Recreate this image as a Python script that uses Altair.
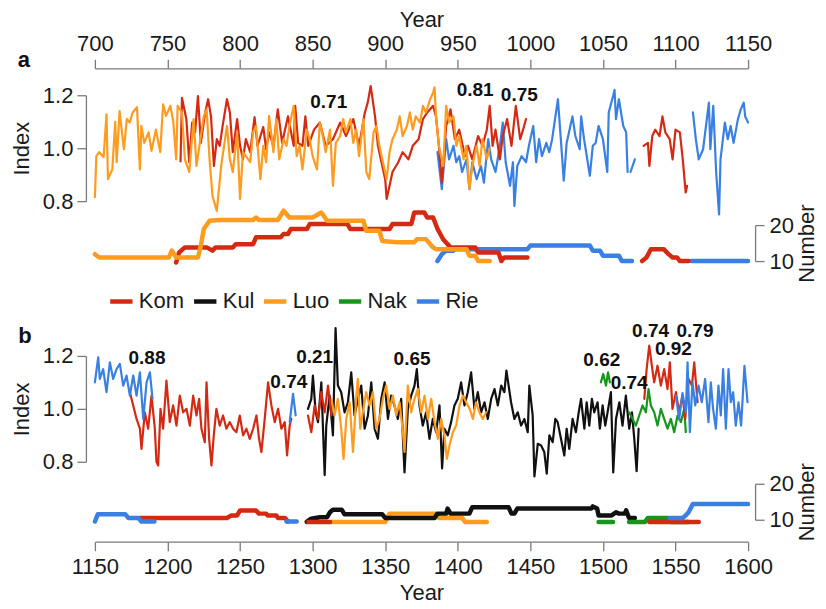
import altair as alt
import pandas as pd

SITES = ['Kom', 'Kul', 'Luo', 'Nak', 'Rie']
COLORS = ['#d42a14', '#111111', '#ff9b1f', '#16961a', '#3a80e2']
FONT = 'Liberation Sans'

# ---- panel a, ring-width index: (year, index) ----
a_luo = [(700, 0.815), (701, 0.97), (703, 0.985), (706, 0.966), (708, 1.128), (709, 0.883), (712, 0.92),
         (714, 1.10), (715, 0.947), (717, 1.14), (720, 0.996), (722, 1.11), (724, 1.097), (726, 1.135),
         (729, 1.155), (731, 0.92), (732, 1.084), (734, 1.02), (737, 1.06), (739, 0.99), (742, 1.07),
         (745, 0.985), (747, 1.166), (749, 1.122), (752, 1.16), (754, 1.10), (756, 0.958), (757, 1.16),
         (760, 1.135), (762, 0.958), (765, 0.91), (768, 1.11), (770, 0.933), (775, 1.12), (777, 1.147),
         (779, 0.958), (781, 0.82), (784, 0.763), (787, 0.933), (791, 1.084), (793, 0.958), (795, 0.91),
         (798, 1.06), (800, 0.808), (802, 0.985), (804, 0.97), (807, 0.947), (809, 1.06), (811, 1.084),
         (814, 0.883), (816, 1.009), (818, 0.947), (820, 1.122), (823, 0.985), (825, 1.11), (827, 0.958),
         (830, 1.034), (832, 1.009), (834, 1.084), (837, 1.16), (839, 0.97), (841, 1.009), (843, 0.92),
         (846, 1.07), (848, 1.034), (850, 0.97), (853, 0.92), (855, 1.097), (857, 1.046), (859, 0.985),
         (862, 1.07), (864, 0.858), (866, 1.02), (869, 1.046), (871, 1.11), (873, 1.06), (876, 1.11),
         (878, 1.02), (880, 1.07), (882, 0.97), (885, 1.11), (887, 0.91), (889, 0.883), (892, 1.06),
         (894, 1.084), (896, 1.009), (898, 0.958), (901, 0.883), (903, 0.985), (905, 1.034), (908, 1.07),
         (910, 1.12), (912, 1.046), (915, 1.084), (917, 1.135), (919, 1.07), (921, 1.12), (924, 1.097),
         (926, 1.16), (928, 1.135), (931, 1.185), (933, 1.21), (934, 1.23), (935, 1.12), (937, 1.009),
         (940, 0.933), (942, 1.16), (944, 1.097), (947, 1.12), (949, 1.009), (951, 1.046), (954, 0.958),
         (956, 1.009), (958, 0.845), (960, 0.933), (963, 1.009), (965, 0.933), (967, 1.034), (970, 0.958),
         (972, 1.0)]
a_kom_1 = [(759, 0.95), (760, 1.19), (763, 1.11), (765, 0.947), (767, 1.097), (769, 1.06), (771, 1.197),
           (773, 1.02), (776, 1.135), (778, 1.185), (780, 1.12), (782, 0.933), (784, 1.034), (786, 1.009),
           (788, 1.084), (791, 1.185), (793, 1.135), (795, 0.985), (798, 1.11), (800, 1.009), (802, 0.958),
           (804, 1.034), (807, 0.985), (810, 1.117), (812, 1.009), (816, 1.08), (818, 0.996), (820, 1.06),
           (823, 1.009), (826, 1.147), (829, 1.02), (833, 1.12), (837, 1.009), (838, 1.16), (840, 1.02),
           (843, 1.009), (845, 1.12), (847, 1.009), (851, 1.07), (855, 1.097), (859, 1.009), (864, 1.034),
           (869, 1.097), (873, 1.046), (878, 1.11), (882, 1.009), (886, 1.135), (888, 1.173), (890, 1.235),
           (893, 1.12), (895, 1.009), (897, 0.958), (900, 0.883), (901, 0.808), (903, 0.858), (905, 0.91),
           (909, 0.947), (912, 0.985), (916, 0.958), (919, 1.009), (923, 1.034), (926, 1.11), (929, 1.135),
           (933, 1.16), (935, 1.12), (937, 1.009), (939, 0.87), (940, 0.933), (942, 1.084), (945, 1.147),
           (948, 1.034), (951, 1.07), (955, 0.97), (957, 1.009), (960, 0.958), (964, 1.046), (967, 1.009),
           (970, 1.07), (972, 1.16), (974, 1.009), (976, 1.07), (979, 0.958), (981, 1.046), (984, 1.11),
           (987, 1.009), (990, 1.16), (993, 1.034), (995, 1.07), (997, 1.11)]
a_kom_2 = [(1078, 1.009), (1081, 1.02), (1082, 0.933), (1084, 1.046), (1086, 1.07), (1089, 1.046),
           (1091, 1.12), (1093, 1.06), (1096, 1.034), (1098, 0.958), (1100, 1.07), (1103, 1.06),
           (1105, 0.958), (1107, 0.833), (1108, 0.858)]
a_rie_1 = [(936, 0.985), (939, 0.845), (942, 1.034), (944, 0.958), (947, 1.009), (949, 0.947), (951, 0.97),
           (953, 0.91), (956, 0.958), (958, 0.845), (960, 0.947), (963, 0.883), (966, 0.933), (968, 0.87),
           (971, 1.034), (973, 0.958), (976, 0.91), (979, 1.009), (981, 1.097), (983, 0.947), (986, 0.858),
           (988, 0.947), (989, 0.782), (991, 0.933), (994, 0.97), (997, 0.947), (999, 1.009), (1002, 1.084),
           (1004, 0.947), (1006, 1.034), (1008, 0.97), (1011, 1.02), (1013, 0.985), (1015, 1.034),
           (1019, 1.185), (1021, 1.034), (1023, 0.877), (1025, 1.02), (1027, 1.07), (1029, 1.12),
           (1031, 1.046), (1034, 0.996), (1035, 1.12), (1037, 1.034), (1041, 0.896), (1043, 1.009),
           (1045, 1.02), (1047, 1.084), (1050, 1.034), (1053, 0.91), (1054, 1.135), (1057, 1.197),
           (1058, 1.22), (1059, 1.11), (1061, 1.185), (1064, 1.084), (1066, 1.06), (1067, 0.91)]
a_rie_2 = [(1069, 0.91), (1072, 0.958)]
a_rie_3 = [(1112, 1.135), (1114, 1.034), (1116, 0.958), (1119, 0.996), (1121, 1.084), (1123, 1.172),
           (1124, 0.996), (1126, 1.16), (1128, 0.91), (1130, 0.75), (1131, 0.958), (1134, 1.097),
           (1136, 1.034), (1138, 1.084), (1140, 1.02), (1143, 1.11), (1145, 1.147), (1147, 1.172),
           (1148, 1.12), (1150, 1.097)]

# ---- panel a, number of series: (year, number) ----
a_luo_n = [(700, 11.9), (703, 11), (751, 11), (753, 12.9), (756, 11), (771, 11), (773, 14.3), (775, 18.9),
           (779, 21.2), (786, 21.4), (809, 21.4), (811, 22.1), (813, 21.4), (826, 21.4), (830, 24),
           (834, 22.1), (850, 22.1), (856, 23.5), (860, 21.2), (885, 21.2), (887, 18.4), (896, 18.4),
           (898, 15.6), (908, 15.2), (920, 15.2), (922, 16.1), (928, 16.1), (933, 13.8), (935, 13.3),
           (956, 13.3), (958, 11.5), (962, 11.5), (964, 10), (972, 10)]
a_kom_n1 = [(756, 9.6), (758, 12.4), (762, 13.8), (777, 13.8), (781, 12.9), (783, 13.8), (795, 13.8),
            (797, 14.7), (809, 14.7), (811, 16.6), (828, 16.6), (830, 17.5), (833, 17.5), (835, 18.9),
            (846, 18.9), (848, 20.3), (874, 20.3), (876, 18.9), (903, 18.9), (905, 20.3), (918, 20.3),
            (920, 23.5), (927, 23.5), (929, 22.1), (933, 22.1), (936, 19), (940, 16), (945, 13.8),
            (962, 13.8), (964, 12.4), (978, 12.4), (980, 10), (982, 11), (998, 11)]
a_kom_n2 = [(1077, 10), (1080, 11), (1083, 13.3), (1092, 13.3), (1095, 12), (1098, 11), (1101, 11),
            (1103, 10), (1109, 10)]
a_rie_n1 = [(936, 10), (939, 11.9), (942, 12.9), (947, 12.9), (948, 13.3), (998, 13.3), (1000, 14.3),
            (1041, 14.3), (1043, 12.9), (1048, 12.9), (1050, 11.5), (1061, 11.5), (1063, 10), (1070, 10)]
a_rie_n2 = [(1111, 10), (1150, 10)]

# ---- panel b, ring-width index ----
b_rie_1 = [(1150, 1.10), (1152.3, 1.195), (1153.4, 1.113), (1155.7, 1.15), (1158, 1.063), (1160.3, 1.176),
           (1162.6, 1.113), (1164.9, 1.15), (1167.2, 1.17), (1169.5, 1.088), (1171.8, 1.126), (1174.1, 1.05),
           (1176.4, 1.126), (1178.7, 1.05), (1181, 1.138), (1183.3, 0.962), (1185.6, 1.10), (1187.9, 1.138),
           (1189.7, 1.038)]
b_rie_2 = [(1284.2, 0.95), (1286.5, 1.057), (1288.3, 0.975)]
b_rie_3 = [(1550.3, 1.05), (1552.5, 0.96), (1554.8, 1.06), (1557.1, 0.987), (1558.3, 1.176), (1559.9, 0.912),
           (1561.7, 1.10), (1563.6, 1.013), (1565.9, 1.088), (1568.1, 1.025), (1570.4, 1.113), (1572.7, 0.95),
           (1574.3, 1.10), (1575.9, 1.0), (1577.8, 0.925), (1579.6, 1.088), (1581.2, 0.975), (1582.8, 1.15),
           (1584.7, 0.925), (1586.5, 1.15), (1588.1, 1.025), (1589.7, 1.063), (1591.5, 0.937),
           (1593.4, 1.025), (1595.2, 0.937), (1597.5, 1.163), (1599.6, 1.025)]
b_kom_1 = [(1174.1, 1.063), (1176.4, 1.013), (1178.7, 0.962), (1181, 0.925), (1182.1, 0.849), (1184.4, 0.987),
           (1186.7, 0.925), (1189, 1.05), (1191.3, 0.925), (1192.4, 0.80), (1193.6, 0.786), (1195.2, 1.0),
           (1197, 0.925), (1199.3, 1.107), (1201.6, 0.95), (1203.9, 1.013), (1206.2, 0.937), (1208.5, 1.05),
           (1210.8, 0.987), (1213.1, 1.0), (1215.4, 0.937), (1217.7, 1.05), (1220, 0.975), (1221.8, 1.038),
           (1223.4, 0.925), (1225.7, 0.874), (1226.9, 1.10), (1228.7, 0.887), (1230.3, 0.786), (1231.9, 0.90),
           (1233.7, 1.0), (1236, 0.937), (1238.3, 0.975), (1240.6, 0.925), (1242.9, 0.95), (1245.2, 0.925),
           (1247.5, 0.912), (1249.8, 0.975), (1252.1, 0.90), (1254.4, 0.925), (1256.7, 0.887), (1259, 0.925),
           (1261.3, 0.975), (1263.1, 0.887), (1264.7, 0.837), (1267, 0.962), (1269.3, 1.10), (1271.6, 1.013),
           (1273.9, 0.95), (1276.2, 1.0), (1278.5, 0.925), (1280.8, 0.95), (1282.4, 0.824), (1284.2, 0.937),
           (1285.3, 0.962)]
b_kom_2 = [(1296.8, 0.975), (1299.1, 0.912), (1301.4, 1.013), (1303.7, 0.962), (1306, 1.063), (1308.3, 0.987),
           (1310.6, 1.088), (1312.9, 0.975)]
b_kom_3 = [(1528.5, 1.038), (1530.1, 1.15), (1531.9, 1.239), (1533.7, 1.163), (1535.3, 1.10), (1537.6, 1.163),
           (1539.9, 1.088), (1542.2, 1.15), (1544.5, 1.075), (1546.1, 1.176), (1547.9, 1.0), (1550.3, 1.063),
           (1552.5, 0.987), (1554.8, 1.05), (1556.7, 0.962), (1559, 1.113), (1561.3, 1.088), (1562.9, 1.176),
           (1565.2, 1.025)]
b_kul = [(1296.8, 1.0), (1299.1, 1.038), (1300.2, 1.126), (1302.1, 0.987), (1303.7, 0.95), (1306, 1.10),
         (1308.3, 0.75), (1309.4, 0.937), (1311.7, 1.05), (1314, 0.90), (1315.8, 1.305), (1317.4, 1.088),
         (1319.7, 1.063), (1322, 0.987), (1324.3, 1.025), (1326.6, 1.138), (1328.9, 0.975), (1331.2, 1.038),
         (1333.5, 1.088), (1335.8, 0.925), (1338.1, 0.975), (1340.4, 1.10), (1342.7, 0.925), (1345, 0.887),
         (1347.3, 1.038), (1349.6, 1.10), (1351.9, 0.962), (1354.1, 1.05), (1356.4, 1.013), (1358.7, 0.962),
         (1361, 1.038), (1363.3, 0.76), (1365.6, 1.0), (1367.9, 1.05), (1370.2, 1.088), (1371.8, 1.15),
         (1373.6, 1.013), (1375.9, 0.937), (1378.2, 0.987), (1380.5, 0.887), (1382.8, 0.962), (1385.1, 0.912),
         (1387.4, 1.013), (1389.2, 0.775), (1390.8, 0.925), (1393.1, 0.90), (1395.4, 0.95), (1397.7, 1.013),
         (1400, 1.038), (1402.3, 1.10), (1404.6, 1.013), (1406.9, 1.063), (1409.2, 1.138), (1411.5, 1.0),
         (1413.8, 1.063), (1416.1, 0.987), (1418.4, 1.025), (1420.7, 0.962), (1423, 1.038), (1425.3, 1.075),
         (1427.6, 1.013), (1429.9, 1.088), (1432.1, 1.063), (1433.5, 1.145), (1436.7, 1.025), (1439, 0.962),
         (1441.3, 0.987), (1443.6, 0.937), (1445.9, 0.962), (1448.2, 0.912), (1449.3, 1.088), (1451.6, 0.975),
         (1452.8, 0.745), (1455.1, 0.868), (1457.4, 0.862), (1459.6, 0.837), (1461.3, 0.755), (1463.1, 0.90),
         (1465.4, 0.874), (1467.2, 0.962), (1468.8, 0.95), (1471.1, 0.887), (1473.4, 0.824), (1475, 0.925),
         (1476.8, 0.849), (1479.1, 0.962), (1481.4, 0.912), (1483.3, 0.987), (1484.9, 1.038), (1487.2, 0.925),
         (1488.8, 1.025), (1490.6, 0.937), (1492.4, 1.038), (1494, 0.987), (1496.3, 1.025), (1497.9, 0.925),
         (1499.8, 1.013), (1501.6, 0.937), (1503.2, 0.987), (1505.5, 1.063), (1507.1, 0.76), (1509, 0.962),
         (1511.3, 1.025), (1513.5, 0.937), (1515.8, 1.05), (1518.1, 0.925), (1520, 0.987), (1521.6, 0.887),
         (1523.2, 0.765), (1524.6, 0.925)]
b_luo = [(1312.9, 1.038), (1315.1, 0.975), (1317.4, 1.038), (1319.7, 0.925), (1321.3, 0.811), (1323.2, 0.962),
         (1325.5, 1.025), (1327.8, 0.837), (1330.1, 1.05), (1331.2, 1.113), (1332.8, 0.925), (1334.6, 0.987),
         (1336.9, 1.063), (1339.2, 1.013), (1341.5, 1.063), (1343.8, 0.925), (1346.1, 0.962), (1348.4, 1.038),
         (1350.7, 1.088), (1353, 1.0), (1355.3, 1.05), (1357.6, 0.975), (1359.9, 1.025), (1362.2, 0.912),
         (1363.3, 0.837), (1365.6, 1.088), (1367.9, 0.987), (1370.2, 1.038), (1372.5, 1.075), (1374.8, 0.987),
         (1377.1, 1.05), (1379.4, 0.962), (1381.7, 1.038), (1384, 0.95), (1386.3, 0.887), (1388.6, 0.962),
         (1390.8, 0.90), (1392.5, 0.811), (1394.3, 0.862), (1396.6, 0.912), (1398.9, 0.937), (1401.2, 1.013),
         (1403.5, 1.05), (1405.8, 1.025), (1408.2, 1.0), (1410.4, 0.962), (1412.6, 1.025), (1414.9, 0.987),
         (1417.2, 0.962), (1419.5, 0.987)]
b_nak_1 = [(1498.6, 1.10), (1500.2, 1.132), (1502.1, 1.088), (1503.5, 1.138), (1504.8, 1.10)]
b_nak_2 = [(1518.1, 0.987), (1520.4, 0.962), (1522.7, 0.937), (1525, 0.975), (1527.3, 1.013), (1529.6, 0.987),
           (1531.4, 1.075), (1533, 1.013), (1535.3, 0.987), (1537.6, 0.937), (1539.9, 1.0), (1542.2, 0.962),
           (1544.5, 0.925), (1546.8, 0.962), (1549.1, 0.912), (1551.4, 0.975), (1553.7, 0.95), (1556, 1.0),
           (1557.1, 0.912)]

# ---- panel b, number of series ----
b_rie_n1 = [(1150, 9.5), (1152, 11.5), (1171, 11.5), (1173, 10.5), (1180, 10.5), (1182, 9.5), (1191, 9.5)]
b_rie_n2 = [(1282, 9.5), (1289, 9.5)]
b_rie_n3 = [(1546, 10.5), (1555, 10.5), (1557, 11.2), (1559, 12.1), (1562, 14.4), (1600, 14.4)]
b_kom_n1 = [(1181, 10.5), (1241, 10.5), (1244, 11.2), (1248, 11.2), (1250, 12.6), (1261, 12.6), (1263, 11.7),
            (1268, 11.7), (1269, 11.2), (1275, 11.2), (1276, 10.5), (1281, 10.5), (1283, 9.5)]
b_kom_n2 = [(1297, 9.4), (1312, 9.4)]
b_kom_n3 = [(1532, 9.4), (1566, 9.4)]
b_kul_n = [(1296, 9.4), (1299, 10.3), (1305, 10.7), (1310, 10.7), (1312, 12.1), (1314, 12.8), (1320, 12.8),
           (1322, 11.5), (1348, 11.5), (1350, 10.5), (1384, 10.5), (1386, 11.7), (1392, 11.7), (1393, 13.1),
           (1395, 11.7), (1408, 11.7), (1410, 13.5), (1435, 13.5), (1437, 11.7), (1439, 11.7), (1441, 13.1),
           (1492, 13.1), (1493, 13.7), (1496, 13.1), (1497, 11.2), (1506, 11.2), (1509, 12.1), (1511, 11.7),
           (1515, 11.7), (1516, 12.6), (1518, 10.5), (1522, 10.5)]
b_luo_n = [(1312, 9.4), (1350, 9.4), (1353, 11.7), (1385, 11.7), (1387, 10.5), (1403, 10.5), (1405, 9.4),
           (1420, 9.4)]
b_nak_n1 = [(1497, 9.4), (1507, 9.4)]
b_nak_n2 = [(1518, 9.4), (1529, 9.4), (1531, 10.5), (1545, 10.5), (1547, 9.4), (1559, 9.4)]

# correlations written on the panels: (year, index, label)
a_notes = [(861.1, 1.176, '0.71'), (962.0, 1.221, '0.81'), (992.4, 1.200, '0.75')]
b_notes = [(1185.9, 1.192, '0.88'), (1301.4, 1.195, '0.21'), (1283.6, 1.101, '0.74'),
           (1368.5, 1.189, '0.65'), (1499.2, 1.186, '0.62'), (1518.1, 1.097, '0.74'),
           (1532.8, 1.296, '0.74'), (1563.4, 1.296, '0.79'), (1548.5, 1.228, '0.92')]


def frame(site, *segments):
    rows = []
    for i, seg in enumerate(segments):
        for year, val in seg:
            rows.append({'Year': year, 'Value': val, 'Site': site, 'Seg': f'{site}{i}'})
    return pd.DataFrame(rows)


color = alt.Color('Site:N', scale=alt.Scale(domain=SITES, range=COLORS),
                  legend=alt.Legend(orient='none', legendX=13, legendY=193, direction='horizontal',
                                    columns=5, gridAlign='none', title=None, symbolType='stroke',
                                    symbolStrokeWidth=4.5, symbolSize=500, labelFont=FONT, labelFontSize=22,
                                    labelColor='#1a1a1a', labelOffset=4, columnPadding=0))


def x_enc(lo, hi, orient=None, offset=0, label_pad=4, title_pad=1):
    if orient is None:
        return alt.X('Year:Q', scale=alt.Scale(domain=[lo, hi], nice=False, zero=False), axis=None)
    return alt.X('Year:Q', scale=alt.Scale(domain=[lo, hi], nice=False, zero=False),
                 axis=alt.Axis(orient=orient, values=list(range(lo, hi + 1, 50)), format='d', offset=offset,
                               title='Year', labelPadding=label_pad, titlePadding=title_pad,
                               labelOverlap=False, labelFlush=False))


y_idx = alt.Y('Value:Q', scale=alt.Scale(domain=[0.8, 1.2], nice=False, zero=False),
              axis=alt.Axis(values=[0.8, 1.0, 1.2], format='.1f', offset=9, title='Index',
                            labelPadding=4, titlePadding=9))
y_num = alt.Y('Value:Q', scale=alt.Scale(domain=[10, 20], nice=False, zero=False),
              axis=alt.Axis(orient='right', values=[10, 20], format='d', offset=7, title='Number',
                            titleAngle=270, titleBaseline='top', labelPadding=5, titlePadding=3))


def lines(df, x, y, width):
    return alt.Chart(df).mark_line(strokeWidth=width, strokeCap='round', strokeJoin='round').encode(
        x=x, y=y, color=color, detail='Seg:N')


def notes(rows, x, y):
    df = pd.DataFrame(rows, columns=['Year', 'Value', 'Label'])
    return alt.Chart(df).mark_text(font=FONT, fontSize=19, fontWeight='bold', color='#111111').encode(
        x=x, y=y, text='Label:N')


def letter(t, dx, dy):
    return alt.Chart(pd.DataFrame({'t': [t]})).mark_text(
        font=FONT, fontSize=22, fontWeight='bold', color='#111111').encode(
        x=alt.value(dx), y=alt.value(dy), text='t:N')


def gap(h):
    return alt.Chart(pd.DataFrame({'t': ['']})).mark_text().encode(
        text='t:N').properties(width=W, height=h)


W = 654
xa_top = x_enc(700, 1150, 'top', 27)
xa = x_enc(700, 1150)
xb = x_enc(1150, 1600)
xb_bot = x_enc(1150, 1600, 'bottom', 22, 6, 5)

a_idx = alt.layer(
    lines(frame('Rie', a_rie_1, a_rie_2, a_rie_3), xa_top, y_idx, 2.2),
    lines(frame('Kom', a_kom_1, a_kom_2), xa_top, y_idx, 2.2),
    lines(frame('Luo', a_luo), xa_top, y_idx, 2.2),
    notes(a_notes, xa_top, y_idx),
    letter('a', -71, -35),
).properties(width=W, height=106)

a_num = alt.layer(
    lines(frame('Rie', a_rie_n1, a_rie_n2), xa, y_num, 4.5),
    lines(frame('Kom', a_kom_n1, a_kom_n2), xa, y_num, 4.5),
    lines(frame('Luo', a_luo_n), xa, y_num, 4.5),
).properties(width=W, height=36)

b_idx = alt.layer(
    lines(frame('Kul', b_kul), xb, y_idx, 2.2),
    lines(frame('Luo', b_luo), xb, y_idx, 2.2),
    lines(frame('Nak', b_nak_1, b_nak_2), xb, y_idx, 2.2),
    lines(frame('Kom', b_kom_1, b_kom_2, b_kom_3), xb, y_idx, 2.2),
    lines(frame('Rie', b_rie_1, b_rie_2, b_rie_3), xb, y_idx, 2.2),
    notes(b_notes, xb, y_idx),
    letter('b', -70, -20),
).properties(width=W, height=106)

b_num = alt.layer(
    lines(frame('Luo', b_luo_n), xb_bot, y_num, 4.5),
    lines(frame('Kul', b_kul_n), xb_bot, y_num, 4.5),
    lines(frame('Nak', b_nak_n1, b_nak_n2), xb_bot, y_num, 4.5),
    lines(frame('Kom', b_kom_n1, b_kom_n2, b_kom_n3), xb_bot, y_num, 4.5),
    lines(frame('Rie', b_rie_n1, b_rie_n2, b_rie_n3), xb_bot, y_num, 4.5),
).properties(width=W, height=36)

chart = alt.vconcat(
    a_idx, gap(24), a_num, gap(95), b_idx, gap(22), b_num, spacing=0, bounds='flush'
).resolve_scale(
    x='independent', y='independent', color='shared'
).properties(
    padding={'left': 2, 'top': 0, 'right': 0, 'bottom': 2}
).configure_view(
    stroke=None
).configure_axis(
    grid=False, domainColor='#7a7a7a', tickColor='#7a7a7a', domainWidth=1.3, tickWidth=1.3, tickSize=9,
    labelFont=FONT, titleFont=FONT, labelFontSize=22, titleFontSize=22, labelColor='#1a1a1a',
    titleColor='#1a1a1a', titleFontWeight='normal'
)

chart.save("out.html", embed_options={"renderer": "svg", "actions": False})
